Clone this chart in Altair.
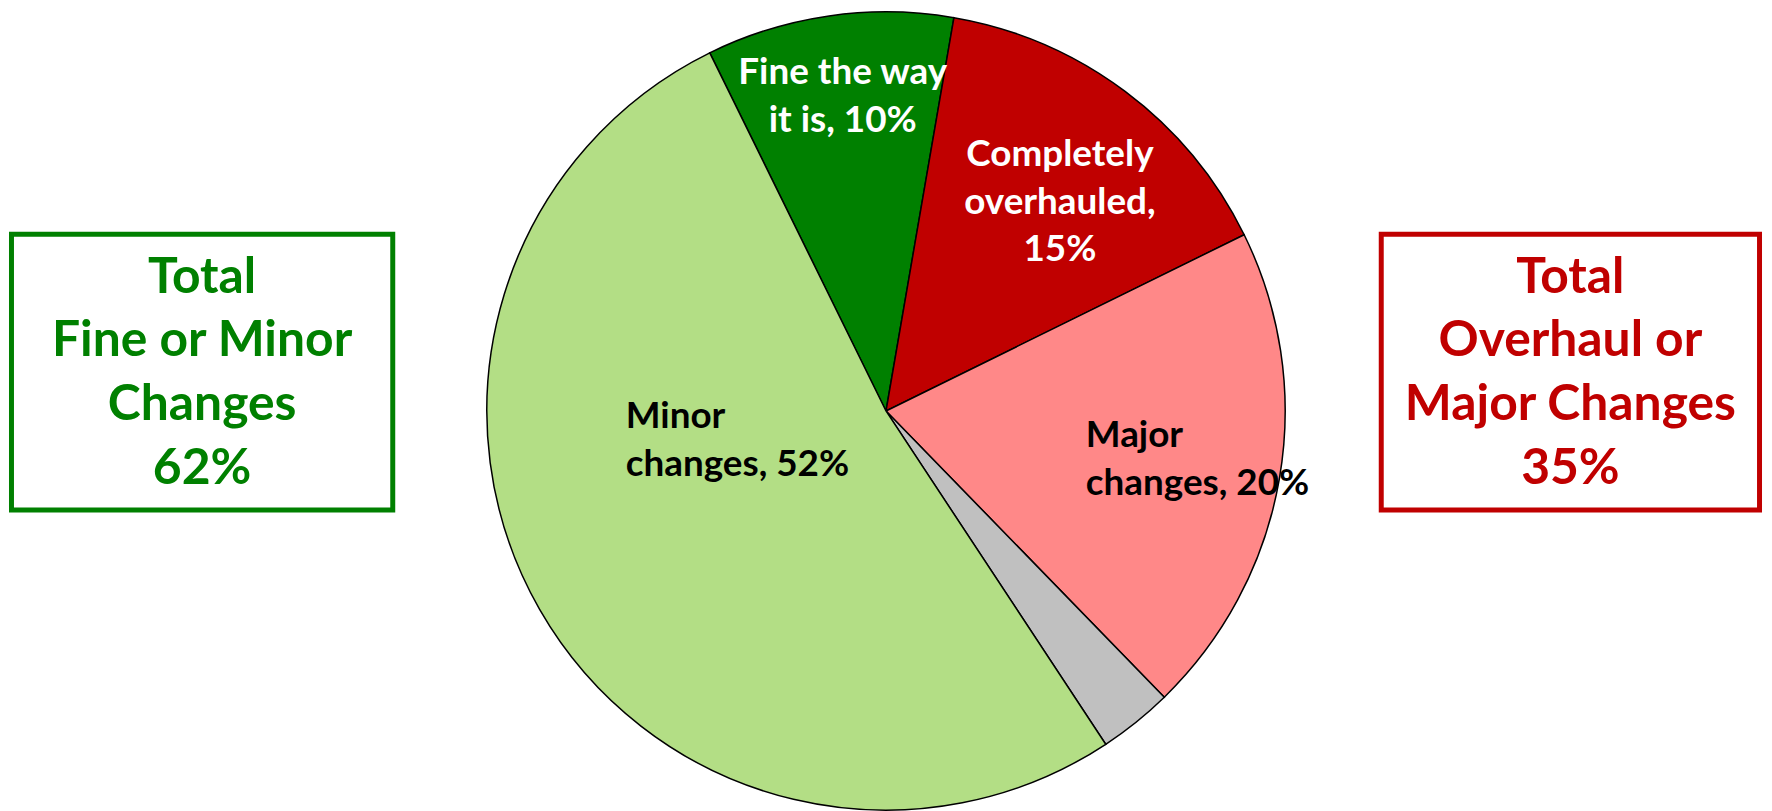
import math
import altair as alt
import pandas as pd

# ---- data ----
categories = ["Fine the way it is", "Completely overhauled", "Major changes", "Other", "Minor changes"]
values = [10, 15, 20, 3, 52]
slice_labels = ["Fine the way\nit is, 10%", "Completely\noverhauled,\n15%", "Major\nchanges, 20%", "", "Minor\nchanges, 52%"]
slice_colors = ["#008000", "#C00000", "#FF8888", "#C0C0C0", "#B3DE85"]
box_texts = ["Total\nFine or Minor\nChanges\n62%", "Total\nOverhaul or\nMajor Changes\n35%"]
box_colors = ["#008000", "#C00000"]

FONT = "Lato"
W, H = 1764, 806
R = 401
start = math.radians(-26.2)

df = pd.DataFrame({"cat": categories, "value": values, "order": list(range(len(values)))})

pie = alt.Chart(df).mark_arc(radius=R, stroke="black", strokeWidth=1.5).encode(
    theta=alt.Theta("value:Q", stack=True, scale=alt.Scale(domain=[0, 100], range=[start, start + 2 * math.pi])),
    color=alt.Color("cat:N", scale=alt.Scale(domain=categories, range=slice_colors), legend=None),
    order=alt.Order("order:Q"),
)

# label layout: anchor of first baseline (angle deg clockwise from top, radius px, align, colour)
layout = {
    0: (-7.55, 331, "center", "white"),
    1: (35.35, 302, "center", "white"),
    2: (100.3, 204, "left", "black"),
    4: (266.3, 262, "left", "black"),
}

label_layers = []
for i, (ang, rad, align, col) in layout.items():
    ldf = pd.DataFrame({"t": [slice_labels[i]], "ang": [math.radians(ang)], "r": [rad]})
    label_layers.append(
        alt.Chart(ldf).mark_text(
            font=FONT, fontSize=37, fontWeight="bold", lineBreak="\n", lineHeight=48,
            align=align, baseline="alphabetic", color=col,
        ).encode(
            theta=alt.Theta("ang:Q", scale=None),
            radius=alt.Radius("r:Q", scale=None),
            text="t:N",
        )
    )

box_layers = []
box_x = [(3.5, 386.5), (1379.5, 1759.5)]
for (x1, x2), txt, col in zip(box_x, box_texts, box_colors):
    bdf = pd.DataFrame({"t": [txt]})
    box_layers.append(
        alt.Chart(bdf).mark_rect(fill="white", fillOpacity=0, stroke=col, strokeWidth=5).encode(
            x=alt.value(x1), x2=alt.value(x2), y=alt.value(225.5), y2=alt.value(502.5)
        )
    )
    box_layers.append(
        alt.Chart(bdf).mark_text(
            font=FONT, fontSize=50, fontWeight="bold", lineBreak="\n", lineHeight=64,
            align="center", baseline="alphabetic", color=col,
        ).encode(x=alt.value((x1 + x2) / 2), y=alt.value(284), text="t:N")
    )

chart = alt.layer(pie, *label_layers, *box_layers).resolve_scale(
    theta="independent", radius="independent"
).properties(
    width=W, height=H, padding=0, autosize=alt.AutoSizeParams(type="none")
).configure_view(stroke=None)

chart.save("out.html", embed_options={"renderer": "svg", "actions": False})
